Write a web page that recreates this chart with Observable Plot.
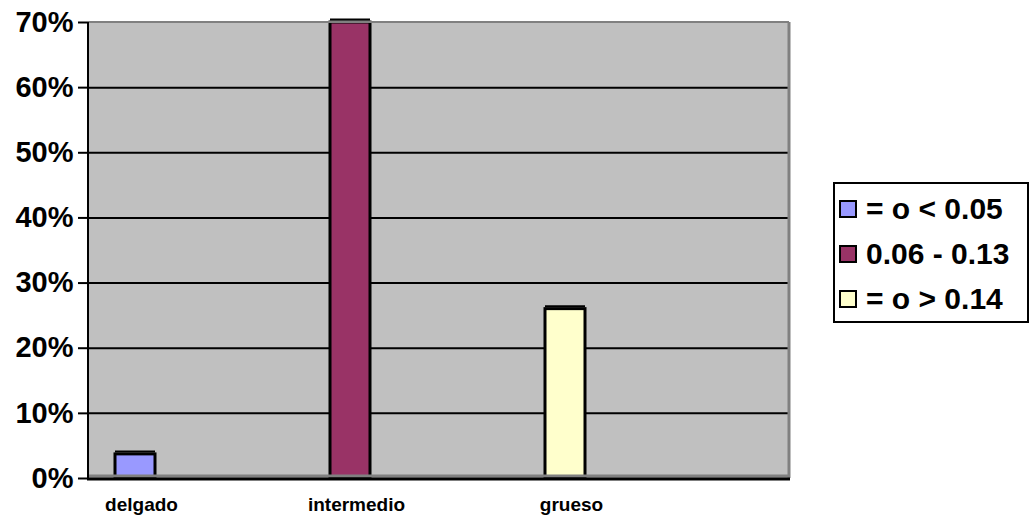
<!DOCTYPE html>
<html>
<head>
<meta charset="utf-8">
<script src="https://cdn.jsdelivr.net/npm/d3@7"></script>
<script src="https://cdn.jsdelivr.net/npm/@observablehq/plot@0.6"></script>
<style>
  html, body { margin: 0; padding: 0; background: #fff; }
  #chart { position: relative; width: 1031px; height: 518px; font-family: "Liberation Sans", Arial, sans-serif; }
  #chart svg { position: absolute; left: 0; top: 0; }
  .legend { position: absolute; left: 833px; top: 182px; width: 196px; height: 141px; border: 2px solid #000; background: #fff; box-sizing: border-box; padding: 2px 0 0 4px; }
  .legend .row { display: flex; align-items: center; height: 45px; font-weight: bold; font-size: 30px; color: #000; white-space: nowrap; }
  .legend .sw { width: 18px; height: 18px; border: 2px solid #000; margin-right: 9px; flex: none; box-sizing: border-box; }
</style>
</head>
<body>
<div id="chart"></div>
<script>
// Share of samples per thickness class
const categories = ["delgado", "intermedio", "grueso"];
const shares = [0.037, 0.70, 0.26];
const seriesLabels = ["= o < 0.05", "0.06 - 0.13", "= o > 0.14"];
const seriesColors = ["#9999FF", "#993366", "#FFFFCC"];
const yTicks = [0, 0.1, 0.2, 0.3, 0.4, 0.5, 0.6, 0.7];

const rows = categories.map((c, i) => ({category: c, share: shares[i], color: seriesColors[i]}));

const W = 1031, H = 518;
const mL = 88, mR = 242, mT = 22, mB = 40;

// Wall edges and axis lines drawn from the plot dimensions
const spines = (index, scales, values, dims) => {
  const g = document.createElementNS("http://www.w3.org/2000/svg", "g");
  const x0 = dims.marginLeft, x1 = dims.width - dims.marginRight;
  const y0 = dims.marginTop, y1 = dims.height - dims.marginBottom;
  const mk = (attrs) => {
    const l = document.createElementNS("http://www.w3.org/2000/svg", "line");
    for (const k in attrs) l.setAttribute(k, attrs[k]);
    g.appendChild(l);
  };
  // darker floor strip and right wall edge
  mk({x1: x0, x2: x1, y1: y1 - 2, y2: y1 - 2, stroke: "#808080", "stroke-width": 3});
  mk({x1: x1, x2: x1, y1: y0, y2: y1, stroke: "#808080", "stroke-width": 3});
  mk({x1: x0, x2: x1, y1: y0, y2: y0, stroke: "#808080", "stroke-width": 2});
  // axis lines
  mk({x1: x0, x2: x0, y1: y0, y2: y1 + 1, stroke: "#000", "stroke-width": 2});
  mk({x1: x0 - 1, x2: x1 + 1, y1: y1 + 1, y2: y1 + 1, stroke: "#000", "stroke-width": 3});
  return g;
};

const plot = Plot.plot({
  width: W,
  height: H,
  marginLeft: mL,
  marginRight: mR,
  marginTop: mT,
  marginBottom: mB,
  style: {fontFamily: "'Liberation Sans', Arial, sans-serif", background: "transparent"},
  x: {type: "band", domain: categories, range: [115, 586], paddingInner: 0.8144, paddingOuter: 0, align: 0},
  y: {domain: [0, 0.7]},
  marks: [
    Plot.frame({fill: "#C0C0C0"}),
    Plot.ruleY(yTicks.slice(1, -1), {stroke: "#000", strokeWidth: 2}),
    Plot.barY(rows, {x: "category", y: "share", fill: "color", stroke: "#000", strokeWidth: 3}),
    // top edge of each column
    Plot.tickY(rows, {x: "category", y: "share", stroke: "#000", strokeWidth: 2, dy: -3}),
    spines,
    Plot.axisY({ticks: yTicks, tickFormat: d3.format(".0%"), tickSize: 10, tickPadding: 5, strokeWidth: 2,
      fontSize: 29, fontWeight: "bold", fill: "#000", label: null}),
    Plot.axisX({tickSize: 0, tickPadding: 19, dx: 6, fontSize: 19, fontWeight: "bold", fill: "#000", label: null})
  ]
});

const chart = document.getElementById("chart");
chart.appendChild(plot);

const legend = document.createElement("div");
legend.className = "legend";
seriesLabels.forEach((label, i) => {
  const row = document.createElement("div");
  row.className = "row";
  const sw = document.createElement("span");
  sw.className = "sw";
  sw.style.background = seriesColors[i];
  row.appendChild(sw);
  row.appendChild(document.createTextNode(label));
  legend.appendChild(row);
});
chart.appendChild(legend);
</script>
</body>
</html>
